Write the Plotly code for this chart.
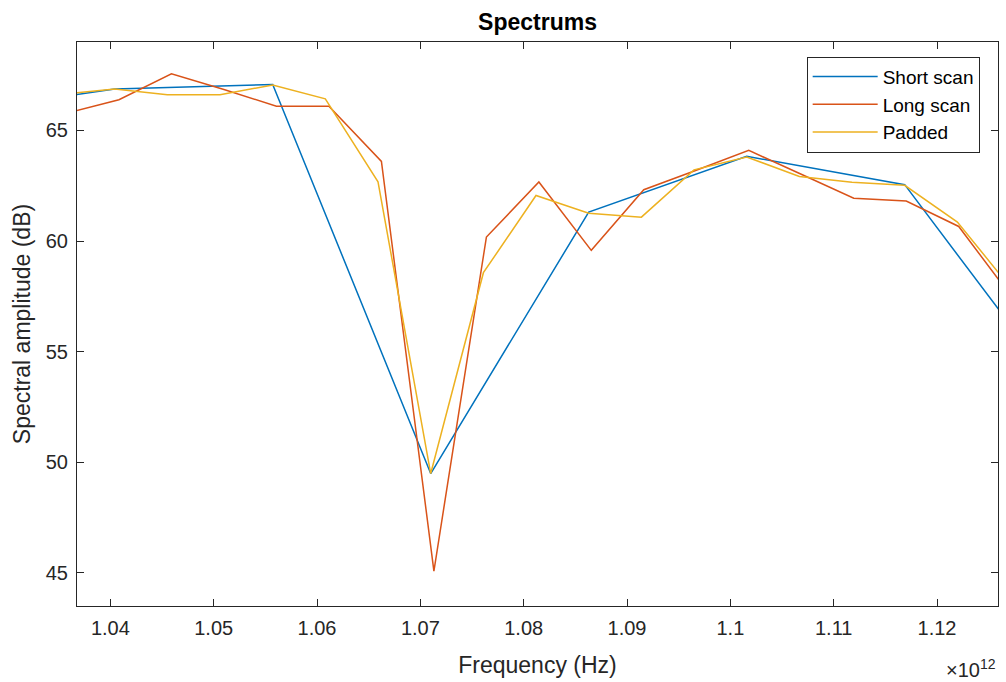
import plotly.graph_objects as go

# Frequency bins (Hz) and spectral amplitudes (dB) for each scan
short_freq_hz = [1.02513e12, 1.04042e12, 1.05571e12, 1.07100e12, 1.08629e12,
                 1.10158e12, 1.11687e12, 1.13216e12]
short_amp_db = [65.80, 66.88, 67.08, 49.49, 61.31, 63.83, 62.55, 53.06]

long_freq_hz = [1.03575e12, 1.04083e12, 1.04591e12, 1.05099e12, 1.05607e12,
                1.06115e12, 1.06623e12, 1.07131e12, 1.07639e12, 1.08147e12,
                1.08654e12, 1.09162e12, 1.09670e12, 1.10178e12, 1.10686e12,
                1.11194e12, 1.11702e12, 1.12210e12, 1.12718e12]
long_amp_db = [65.78, 66.39, 67.56, 66.85, 66.10, 66.10, 63.60, 45.08, 60.18,
               62.67, 59.58, 62.32, 63.20, 64.10, 63.02, 61.94, 61.81, 60.66,
               57.50]

padded_freq_hz = [1.03532e12, 1.04042e12, 1.04551e12, 1.05061e12, 1.05571e12,
                  1.06080e12, 1.06590e12, 1.07100e12, 1.07610e12, 1.08119e12,
                  1.08629e12, 1.09139e12, 1.09648e12, 1.10158e12, 1.10668e12,
                  1.11177e12, 1.11687e12, 1.12197e12, 1.12706e12]
padded_amp_db = [66.63, 66.88, 66.61, 66.61, 67.06, 66.43, 62.68, 49.49, 58.57,
                 62.06, 61.26, 61.08, 63.22, 63.80, 62.92, 62.66, 62.52, 60.86,
                 57.93]

series_names = ["Short scan", "Long scan", "Padded"]
series_colors = ["#0072BD", "#D95319", "#EDB120"]

x_tick_vals = [1.04e12, 1.05e12, 1.06e12, 1.07e12, 1.08e12, 1.09e12, 1.10e12,
               1.11e12, 1.12e12]
x_tick_text = ["1.04", "1.05", "1.06", "1.07", "1.08", "1.09", "1.1", "1.11",
               "1.12"]
y_tick_vals = [45, 50, 55, 60, 65]

x_range = [1.03677e12, 1.12590e12]
y_range = [43.5, 69.0]

FONT = "Liberation Sans, Arial, Helvetica, sans-serif"
INK = "#262626"

fig = go.Figure()
for name, color, xs, ys in zip(series_names, series_colors,
                               [short_freq_hz, long_freq_hz, padded_freq_hz],
                               [short_amp_db, long_amp_db, padded_amp_db]):
    fig.add_trace(go.Scatter(x=xs, y=ys, mode="lines", name=name,
                             line=dict(color=color, width=1.5)))

axis_common = dict(showline=True, linecolor=INK, linewidth=1, mirror="ticks",
                   ticks="inside", ticklen=7, tickwidth=1, tickcolor=INK,
                   showgrid=False, zeroline=False, ticklabelstandoff=4,
                   tickfont=dict(family=FONT, size=20, color=INK))

fig.update_xaxes(range=x_range, tickmode="array", tickvals=x_tick_vals,
                 ticktext=x_tick_text,
                 title=dict(text="Frequency (Hz)", standoff=18,
                            font=dict(family=FONT, size=23, color=INK)),
                 **axis_common)
fig.update_yaxes(range=y_range, tickmode="array", tickvals=y_tick_vals,
                 title=dict(text="Spectral amplitude (dB)", standoff=8,
                            font=dict(family=FONT, size=23, color=INK)),
                 **axis_common)

fig.add_annotation(text="\u00d710<sup>12</sup>", xref="paper", yref="paper",
                   x=1.0, y=-0.085, xanchor="right", yanchor="top",
                   showarrow=False, font=dict(family=FONT, size=20, color=INK))

fig.update_layout(
    width=1006, height=682,
    margin=dict(l=77, r=8, t=42, b=76),
    paper_bgcolor="white", plot_bgcolor="white",
    title=dict(text="<b>Spectrums</b>", x=0.5, xref="paper", y=0.968,
               yref="container", xanchor="center", yanchor="middle",
               font=dict(family=FONT, size=23, color="black")),
    legend=dict(x=0.9801, y=0.974, xanchor="right", yanchor="top",
                bgcolor="white", bordercolor=INK, borderwidth=1,
                itemwidth=65,
                font=dict(family=FONT, size=19, color="black")),
    showlegend=True,
)

fig.write_html("out.html")
